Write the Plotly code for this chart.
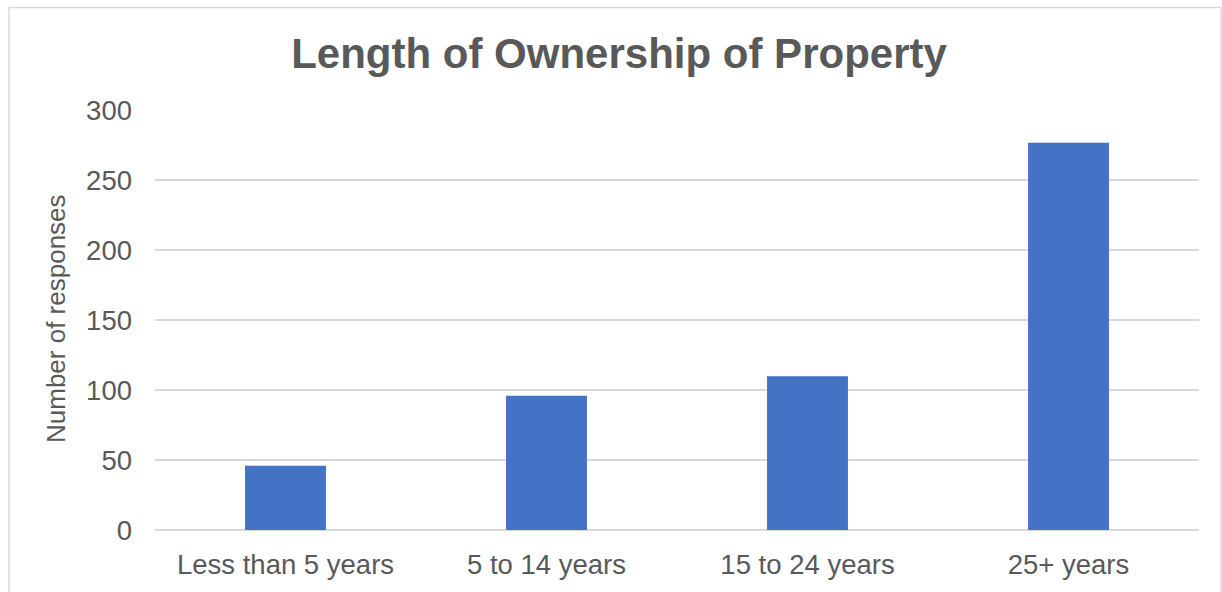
import plotly.graph_objects as go

categories = ["Less than 5 years", "5 to 14 years", "15 to 24 years", "25+ years"]
responses = [46, 96, 110, 277]
y_ticks = [0, 50, 100, 150, 200, 250, 300]

W, H = 1222, 592
L, R, T, B = 155, 23, 110, 60
pw, ph = W - L - R, H - T - B

fig = go.Figure()
fig.add_trace(go.Bar(x=categories, y=responses, marker=dict(color="#4472C4", line=dict(width=0)),
                     width=0.31))

def px_x(x):
    return (x - L) / pw

def px_y(y):
    return (H - B - y) / ph

fig.update_layout(
    width=W, height=H,
    margin=dict(l=L, r=R, t=T, b=B),
    paper_bgcolor="white", plot_bgcolor="white",
    font=dict(family="Liberation Sans, Arial", color="#595959"),
    title=dict(text="<b>Length of Ownership of Property</b>", x=px_x(619), xanchor="center", xref="paper",
               y=1 - 53 / H, yanchor="middle", font=dict(size=42, color="#595959")),
    showlegend=False,
    xaxis=dict(showgrid=False, showline=False, tickfont=dict(size=27.5, color="#595959"),
               ticks="", ticklen=0, ticklabelstandoff=15),
    yaxis=dict(range=[0, 300.4], tickvals=y_ticks, showgrid=True, gridcolor="#d9d9d9", gridwidth=1.5,
               zeroline=True, zerolinecolor="#d9d9d9", zerolinewidth=1.5,
               tickfont=dict(size=27.5, color="#595959"), ticks="", ticklen=0, ticklabelstandoff=22),
    annotations=[dict(text="Number of responses", textangle=-90, xref="paper", yref="paper",
                      x=px_x(56), y=px_y(320), xanchor="center", yanchor="middle", showarrow=False,
                      font=dict(size=26, color="#595959"))],
    shapes=[dict(type="rect", xref="paper", yref="paper",
                 x0=px_x(9), x1=px_x(1221), y0=px_y(600), y1=px_y(7),
                 line=dict(color="#d9d9d9", width=1.5), fillcolor="rgba(0,0,0,0)", layer="below")],
)

fig.write_html("out.html", config={"displayModeBar": False},
               post_script="document.body.style.margin='0';document.body.style.overflow='hidden';")
